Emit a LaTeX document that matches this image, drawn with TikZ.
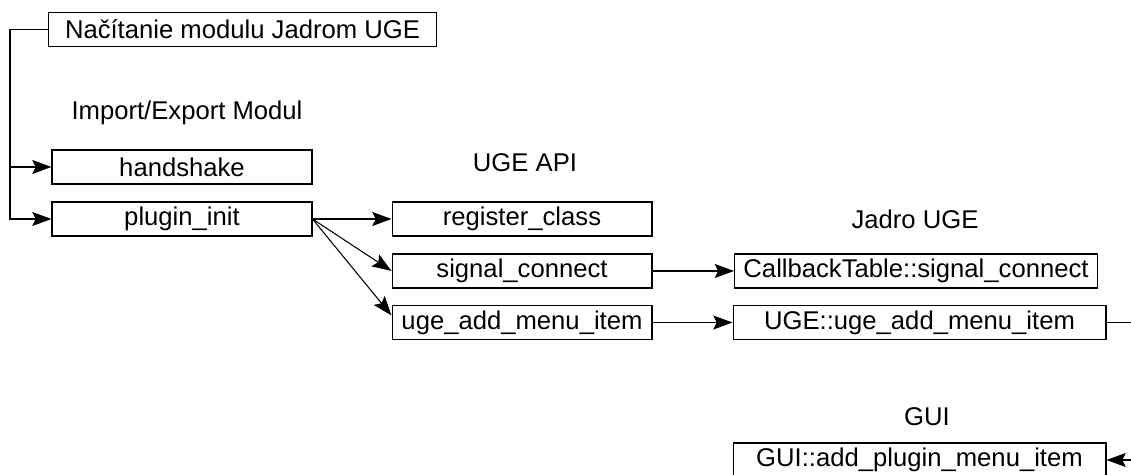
\documentclass[tikz,border=0pt]{standalone}
\usepackage{fontspec}
\setmainfont{Liberation Sans}
\usetikzlibrary{arrows.meta}

\begin{document}
\begin{tikzpicture}[x=0.02cm,y=-0.02cm,
  every node/.style={font=\fontsize{14.6}{17}\selectfont},
  box/.style={draw,line width=0.6pt,minimum height=0.68cm,inner sep=0pt,minimum width=5.2cm},
  conn/.style={line width=0.6pt,-{Stealth[length=11pt,width=8pt,inset=2pt]}}
  ]
    \useasboundingbox (0,0) rectangle (1131,475);

    % Import/Export Modul
    \node[box,minimum width=7.78cm] (load) at (242.5,29.5) {Načítanie modulu Jadrom UGE};
    \node (lblmod) at (187,113) {Import/Export Modul};
    \node[box] (handshake) at (182,167) {handshake};
    \node[box] (plugininit) at (182,219) {plugin\_init};

    % UGE API
    \node (lblapi) at (525,163) {UGE API};
    \node[box] (regclass) at (522,219) {register\_class};
    \node[box] (sigconn) at (522,271) {signal\_connect};
    \node[box] (addmenu) at (522,322.5) {uge\_add\_menu\_item};

    % Jadro UGE
    \node (lblcore) at (915,219) {Jadro UGE};
    \node[box,minimum width=7.26cm] (cbtable) at (916,271) {CallbackTable::signal\_connect};
    \node[box,minimum width=7.46cm] (ugeadd) at (919.5,322.5) {UGE::uge\_add\_menu\_item};

    % GUI
    \node (lblgui) at (927,417) {GUI};
    \node[box,minimum width=7.46cm] (guiadd) at (919.5,460) {GUI::add\_plugin\_menu\_item};

    \coordinate (bend) at (10,0);
    \draw[conn] (load.west) -| (bend |- plugininit) -- (plugininit.west);
    \draw[conn] (bend |- handshake) -- (handshake.west);

    \draw[conn] (plugininit.east) -- (regclass.west);
    \draw[conn] (plugininit.east) -- (sigconn.west);
    \draw[conn] (plugininit.east) -- ([yshift=4pt]addmenu.west);

    \draw[conn] (sigconn.east) -- (cbtable.west);
    \draw[conn] (addmenu.east) -- (ugeadd.west);

    \draw[conn] (ugeadd.east) -- ++(40,0) |- (guiadd.east);
\end{tikzpicture}
\end{document}
